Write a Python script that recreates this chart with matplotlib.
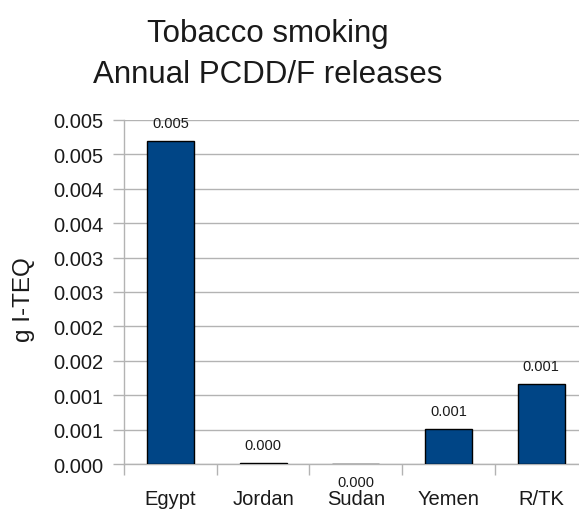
import matplotlib
matplotlib.use("Agg")
import matplotlib.pyplot as plt
from matplotlib import font_manager

# Annual PCDD/F releases from tobacco smoking (g I-TEQ)
countries = ["Egypt", "Jordan", "Sudan", "Yemen", "R/TK"]
releases = [0.00469, 0.00002, 0.0, 0.00051, 0.00116]
value_labels = ["0.005", "0.000", "0.000", "0.001", "0.001"]

y_ticks = [0.0, 0.0005, 0.001, 0.0015, 0.002, 0.0025, 0.003, 0.0035, 0.004, 0.0045, 0.005]
y_tick_labels = ["0.000", "0.001", "0.001", "0.002", "0.002", "0.003",
                 "0.003", "0.004", "0.004", "0.005", "0.005"]

title_lines = ["Tobacco smoking", "Annual PCDD/F releases"]
y_title = "g I-TEQ"

available = {f.name for f in font_manager.fontManager.ttflist}
body_font = "Liberation Sans" if "Liberation Sans" in available else "DejaVu Sans"
plt.rcParams["font.family"] = [body_font, "DejaVu Sans"]

text_col = "#1a1a1a"
grid_col = "#b3b3b3"
bar_col = "#004586"

W, H = 579, 510
fig = plt.figure(figsize=(W / 100, H / 100), dpi=100)
ax = fig.add_axes([124 / W, 44.7 / H, 463.5 / W, 344.6 / H])

x = range(len(countries))
bars = ax.bar(x, releases, width=0.507, color=bar_col, edgecolor="black",
              linewidth=1.0, zorder=3)

ax.set_xlim(-0.5, len(countries) - 0.5)
ax.set_ylim(0, 0.005)

# y axis
ax.set_yticks(y_ticks)
ax.set_yticklabels(y_tick_labels)
ax.tick_params(axis="y", length=8.1, width=1, color=grid_col, pad=6.8,
               labelsize=14.5, labelcolor=text_col)
ax.yaxis.grid(True, color=grid_col, linewidth=1, zorder=0)

# x axis: labels at centers, separators at category boundaries
ax.set_xticks(list(x))
ax.set_xticklabels(countries)
ax.set_xticks([i - 0.5 for i in range(len(countries) + 1)], minor=True)
ax.tick_params(axis="x", which="major", length=0, pad=17.5,
               labelsize=14.5, labelcolor=text_col)
ax.tick_params(axis="x", which="minor", length=8.1, width=1, color=grid_col)

for side in ("top", "right"):
    ax.spines[side].set_visible(False)
for side in ("left", "bottom"):
    ax.spines[side].set_color(grid_col)
    ax.spines[side].set_linewidth(1)

# value labels
for xi, v, lab in zip(x, releases, value_labels):
    off = 13 if v > 0 else -13
    ax.annotate(lab, (xi, v), xytext=(0, off), textcoords="offset points",
                ha="center", va="center", fontsize=10.5, color=text_col,
                annotation_clip=False, zorder=4)

# titles
fig.text(268 / W, 1 - 41.7 / H, title_lines[0], ha="center", va="baseline",
         fontsize=22.5, color=text_col)
fig.text(268 / W, 1 - 83.3 / H, title_lines[1], ha="center", va="baseline",
         fontsize=22.5, color=text_col)

fig.text(24 / W, 1 - 300 / H, y_title, rotation=90, ha="center", va="center",
         fontsize=17.5, color=text_col)

fig.savefig("out.png", dpi=100, facecolor="white")
